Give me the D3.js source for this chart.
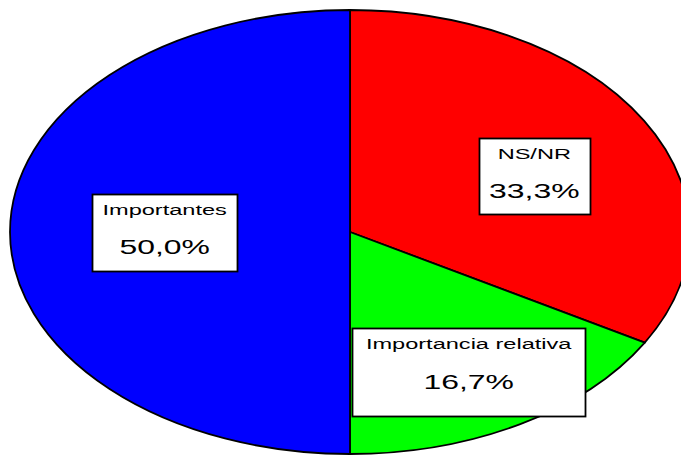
<!DOCTYPE html>
<html>
<head>
<meta charset="utf-8">
<script src="https://cdn.jsdelivr.net/npm/d3@7"></script>
<style>
  html, body { margin: 0; padding: 0; background: #fff; overflow: hidden; }
  svg { display: block; }
</style>
</head>
<body>
<script>
// ---- data ----
const categories = ["NS/NR", "Importancia relativa", "Importantes"];
const values = [33.3, 16.7, 50.0];
const valueLabels = ["33,3%", "16,7%", "50,0%"];
const colors = ["#FF0000", "#00FF00", "#0000FF"];

// ---- layout (not data) ----
const W = 681, H = 455;
const cx = 350, cy = 232, rx = 340, ry = 222;
const textStretch = 1.52;
// label boxes in unit-ellipse coordinates: [centerX, top, width, height]
const boxLayout = [
  { ux: 0.542, uy: -0.423, w: 111, h: 76 },
  { ux: 0.349, uy: 0.432, w: 233, h: 88 },
  { ux: -0.545, uy: -0.171, w: 145, h: 77 }
];

const svg = d3.select("body").append("svg")
  .attr("width", W).attr("height", H);

const pie = d3.pie().sort(null).value(d => d.value);
const arcs = pie(categories.map((c, i) => ({ cat: c, value: values[i], label: valueLabels[i], color: colors[i] })));
const arc = d3.arc().innerRadius(0).outerRadius(1);

const xs = d3.scaleLinear().domain([-1, 1]).range([cx - rx, cx + rx]);
const ys = d3.scaleLinear().domain([-1, 1]).range([cy - ry, cy + ry]);

const g = svg.append("g")
  .attr("transform", `translate(${cx},${cy}) scale(${rx},${ry})`);

g.selectAll("path").data(arcs).enter().append("path")
  .attr("d", arc)
  .attr("fill", d => d.data.color)
  .attr("stroke", "#000")
  .attr("stroke-width", 1.8)
  .attr("vector-effect", "non-scaling-stroke")
  .attr("stroke-linejoin", "round");

// labels
const lab = svg.selectAll("g.lab").data(arcs).enter().append("g").attr("class", "lab");
lab.each(function(d, i) {
  const L = boxLayout[i];
  const x0 = xs(L.ux), y0 = ys(L.uy);
  const gg = d3.select(this);
  gg.append("rect")
    .attr("x", Math.round(x0 - L.w / 2) + 0.5)
    .attr("y", Math.round(y0) + 0.5)
    .attr("width", L.w).attr("height", L.h)
    .attr("fill", "#fff").attr("stroke", "#000").attr("stroke-width", 1.8);
  const t1y = y0 + (L.h > 80 ? 21 : 20.5);
  const t2y = y0 + (L.h > 80 ? 61 : 60);
  gg.append("text")
    .attr("transform", `translate(${x0},${t1y}) scale(${textStretch},1)`)
    .attr("text-anchor", "middle")
    .style("font-family", "'Liberation Sans', Arial, sans-serif")
    .style("font-size", "15.5px")
    .attr("fill", "#000")
    .text(d.data.cat);
  gg.append("text")
    .attr("transform", `translate(${x0},${t2y}) scale(${textStretch},1)`)
    .attr("text-anchor", "middle")
    .style("font-family", "'Liberation Sans', Arial, sans-serif")
    .style("font-size", "21px")
    .attr("fill", "#000")
    .text(d.data.label);
});
</script>
</body>
</html>
